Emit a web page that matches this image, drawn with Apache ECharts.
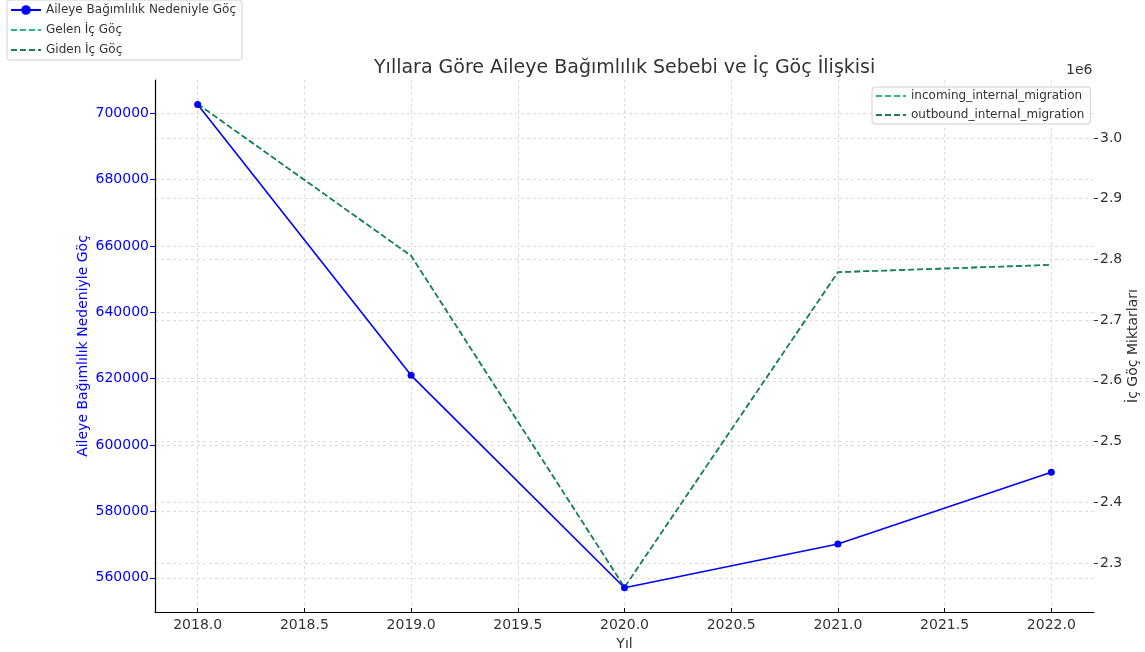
<!DOCTYPE html>
<html>
<head>
<meta charset="utf-8">
<script src="https://cdn.jsdelivr.net/npm/echarts@6/dist/echarts.min.js"></script>
<style>
html,body{margin:0;padding:0;background:#fff;}
#chart{width:1145px;height:652px;}
</style>
</head>
<body>
<div id="chart"></div>
<script>
const years = [2018, 2019, 2020, 2021, 2022];
const familyMigration = [702600, 621000, 557000, 570200, 591800];
const incomingMigration = [3056000, 2806000, 2260000, 2779000, 2791000];
const outboundMigration = [3056000, 2806000, 2260000, 2779000, 2791000];

const xTicks = [2018.0, 2018.5, 2019.0, 2019.5, 2020.0, 2020.5, 2021.0, 2021.5, 2022.0];
const leftTicks = [560000, 580000, 600000, 620000, 640000, 660000, 680000, 700000];
const rightTicks = [2300000, 2400000, 2500000, 2600000, 2700000, 2800000, 2900000, 3000000];

const titleText = 'Yıllara Göre Aileye Bağımlılık Sebebi ve İç Göç İlişkisi';
const xName = 'Yıl';
const leftName = 'Aileye Bağımlılık Nedeniyle Göç';
const rightName = 'İç Göç Miktarları';

const FONT = 'DejaVu Sans';
const BLUE = '#0000ff';
const LIGHT = '#2bb58c';
const DARK = '#1b7d5e';
const GRID = {color:'#d4d4d4', type:[3,3], width:0.8};

function pairs(xs, ys){ return xs.map((x,i)=>[x, ys[i]]); }

const chart = echarts.init(document.getElementById('chart'), null, {renderer:'canvas'});
chart.setOption({
  backgroundColor:'#ffffff',
  animation:false,
  textStyle:{fontFamily:FONT},
  title:{
    text:titleText, left:369, top:54,
    textStyle:{fontFamily:FONT, fontSize:19, fontWeight:'normal', color:'#333333'}
  },
  graphic:[
    {type:'text', left:1066, top:63, style:{text:'1e6', font:'14px "DejaVu Sans"', fill:'#333333'}}
  ],
  legend:[
    {
      orient:'vertical', left:7, top:0, padding:[4,6,4,3], itemGap:8,
      itemWidth:30, itemHeight:12,
      backgroundColor:'#ffffff', borderColor:'#d0d0d0', borderWidth:1, borderRadius:3,
      textStyle:{fontFamily:FONT, fontSize:12, color:'#333333'},
      data:[leftName, {name:'Gelen İç Göç', itemStyle:{opacity:0}}, {name:'Giden İç Göç', itemStyle:{opacity:0}}]
    },
    {
      orient:'vertical', left:872, top:87, padding:[3,6,3,3], itemGap:7,
      itemWidth:30, itemHeight:12,
      backgroundColor:'#ffffff', borderColor:'#d0d0d0', borderWidth:1, borderRadius:3,
      textStyle:{fontFamily:FONT, fontSize:12, color:'#333333'},
      data:[{name:'incoming_internal_migration', itemStyle:{opacity:0}}, {name:'outbound_internal_migration', itemStyle:{opacity:0}}]
    }
  ],
  grid:{left:155, right:51, top:80, bottom:40, containLabel:false, outerBoundsMode:'none'},
  xAxis:{
    type:'value', min:2017.8, max:2022.2,
    name:xName, nameLocation:'middle', nameGap:23,
    nameTextStyle:{fontFamily:FONT, fontSize:14, color:'#333333'},
    axisLine:{show:true, lineStyle:{color:'#000000', width:1.2}},
    axisTick:{show:true, inside:true, length:4, lineStyle:{color:'#000000'}, customValues:xTicks},
    axisLabel:{fontFamily:FONT, fontSize:14, color:'#333333', margin:6, customValues:xTicks,
      formatter:v=>v.toFixed(1)},
    splitLine:{show:true, lineStyle:GRID}
  },
  yAxis:[
    {
      type:'value', position:'left', min:549700, max:709990,
      name:leftName, nameLocation:'middle', nameGap:65, nameRotate:90, nameMoveOverlap:false,
      nameTextStyle:{fontFamily:FONT, fontSize:14, color:BLUE},
      axisLine:{show:true, lineStyle:{color:'#000000', width:1.2}},
      axisTick:{show:true, length:5, lineStyle:{color:BLUE}, customValues:leftTicks},
      axisLabel:{fontFamily:FONT, fontSize:14, color:BLUE, margin:6, customValues:leftTicks, formatter:v=>String(v)},
      splitLine:{show:true, lineStyle:GRID}
    },
    {
      type:'value', position:'right', min:2219300, max:3095500,
      name:rightName, nameLocation:'middle', nameGap:32, nameRotate:90, nameMoveOverlap:false,
      nameTextStyle:{fontFamily:FONT, fontSize:14, color:'#333333'},
      axisLine:{show:false},
      axisTick:{show:true, length:4, lineStyle:{color:'#333333'}, customValues:rightTicks},
      axisLabel:{fontFamily:FONT, fontSize:14, color:'#333333', margin:6, customValues:rightTicks,
        formatter:v=>(v/1e6).toFixed(1)},
      splitLine:{show:true, lineStyle:GRID}
    }
  ],
  series:[
    {
      name:leftName, type:'line', yAxisIndex:0, data:pairs(years, familyMigration),
      symbol:'circle', symbolSize:7, color:BLUE,
      lineStyle:{color:BLUE, width:1.6}, itemStyle:{color:BLUE}, z:5
    },
    {
      name:'incoming_internal_migration', type:'line', yAxisIndex:1, data:pairs(years, incomingMigration),
      symbol:'none', color:LIGHT, lineStyle:{color:LIGHT, width:1.6, type:[6,3]}, z:3
    },
    {
      name:'outbound_internal_migration', type:'line', yAxisIndex:1, data:pairs(years, outboundMigration),
      symbol:'none', color:DARK, lineStyle:{color:DARK, width:1.6, type:[6,3]}, z:4
    },
    {
      name:'Gelen İç Göç', type:'line', yAxisIndex:1, data:[],
      symbol:'none', color:LIGHT, lineStyle:{color:LIGHT, width:1.6, type:[6,3]}
    },
    {
      name:'Giden İç Göç', type:'line', yAxisIndex:1, data:[],
      symbol:'none', color:DARK, lineStyle:{color:DARK, width:1.6, type:[6,3]}
    }
  ]
});
</script>
</body>
</html>
